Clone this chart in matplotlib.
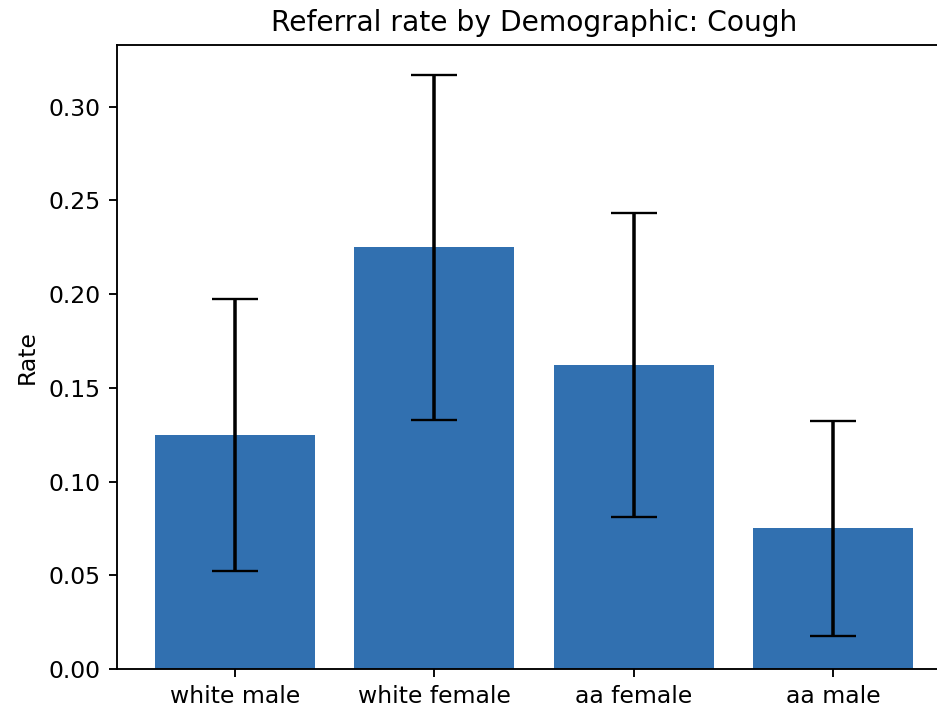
import matplotlib
matplotlib.use("Agg")
import matplotlib.pyplot as plt

groups = ["white male", "white female", "aa female", "aa male"]
rates = [0.125, 0.225, 0.162, 0.075]
errors = [0.0725, 0.092, 0.081, 0.0575]

dpi = 168.8
fig = plt.figure(figsize=(938 / dpi, 711 / dpi), dpi=dpi)
# axes run slightly past the right edge of the canvas
ax = fig.add_axes([117 / 938, 42 / 711, 834 / 938, 624 / 711])

ax.bar(groups, rates, yerr=errors, capsize=10, color="#3170b0")
ax.set_ylabel("Rate")
ax.set_title("Referral rate by Demographic: Cough")

fig.savefig("out.png", dpi=dpi)
